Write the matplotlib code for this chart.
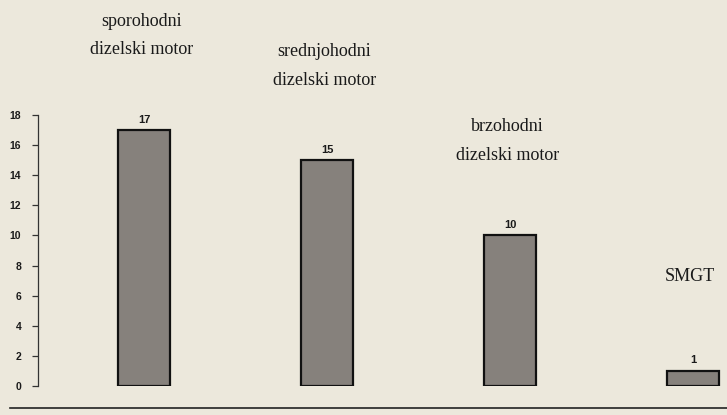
import numpy as np
import matplotlib
matplotlib.use("Agg")
import matplotlib.pyplot as plt
from matplotlib.lines import Line2D

categories = ["sporohodni\ndizelski motor", "srednjohodni\ndizelski motor",
              "brzohodni\ndizelski motor", "SMGT"]
values = [17, 15, 10, 1]
yticks = [0, 2, 4, 6, 8, 10, 12, 14, 16, 18]

W, H = 727, 415
bg = "#ECE8DC"
fig = plt.figure(figsize=(W / 100, H / 100), dpi=100, facecolor=bg)

left_px, right_px, top_px, bot_px = 38, 727, 115, 386
ax = fig.add_axes([left_px / W, (H - bot_px) / H,
                   (right_px - left_px) / W, (bot_px - top_px) / H])
ax.set_facecolor(bg)
ax.patch.set_alpha(0)

spacing = 183.0
c0 = 144.0
xs = np.arange(len(values))
ax.set_xlim(-(c0 - left_px) / spacing, (right_px - c0) / spacing)
ax.set_ylim(0, 18)

ax.bar(xs, values, width=52 / spacing, color="#86817C", edgecolor="#111111",
       linewidth=1.6, zorder=2)

for x, v, lab in zip(xs, values, categories):
    ax.annotate(str(v), (x, v), xytext=(0, 4), textcoords="offset points",
                ha="center", va="bottom", fontsize=8, fontweight="bold",
                family="Liberation Sans", color="#1a1a1a", annotation_clip=False)
    ax.annotate(lab, (x, v), xytext=(-2, 68), textcoords="offset points",
                ha="center", va="center", fontsize=13, family="Liberation Serif",
                color="#1a1a1a", linespacing=1.9, annotation_clip=False)

for s in ["top", "right", "bottom"]:
    ax.spines[s].set_visible(False)
ax.spines["left"].set_bounds(0, 18)
ax.spines["left"].set_color("#333333")
ax.spines["left"].set_linewidth(0.9)
ax.set_xticks([])
ax.set_yticks(yticks)
ax.set_yticklabels([str(t) for t in yticks], fontsize=7.5, fontweight="bold",
                   family="Liberation Sans", color="#1a1a1a")
ax.tick_params(axis="y", direction="out", length=4, width=0.9, pad=8,
               color="#333333")

fig.add_artist(Line2D([10 / W, 1.0], [(H - 408) / H] * 2, color="#222222",
                      linewidth=1.2, transform=fig.transFigure))

fig.savefig("out.png", dpi=100, facecolor=bg)
